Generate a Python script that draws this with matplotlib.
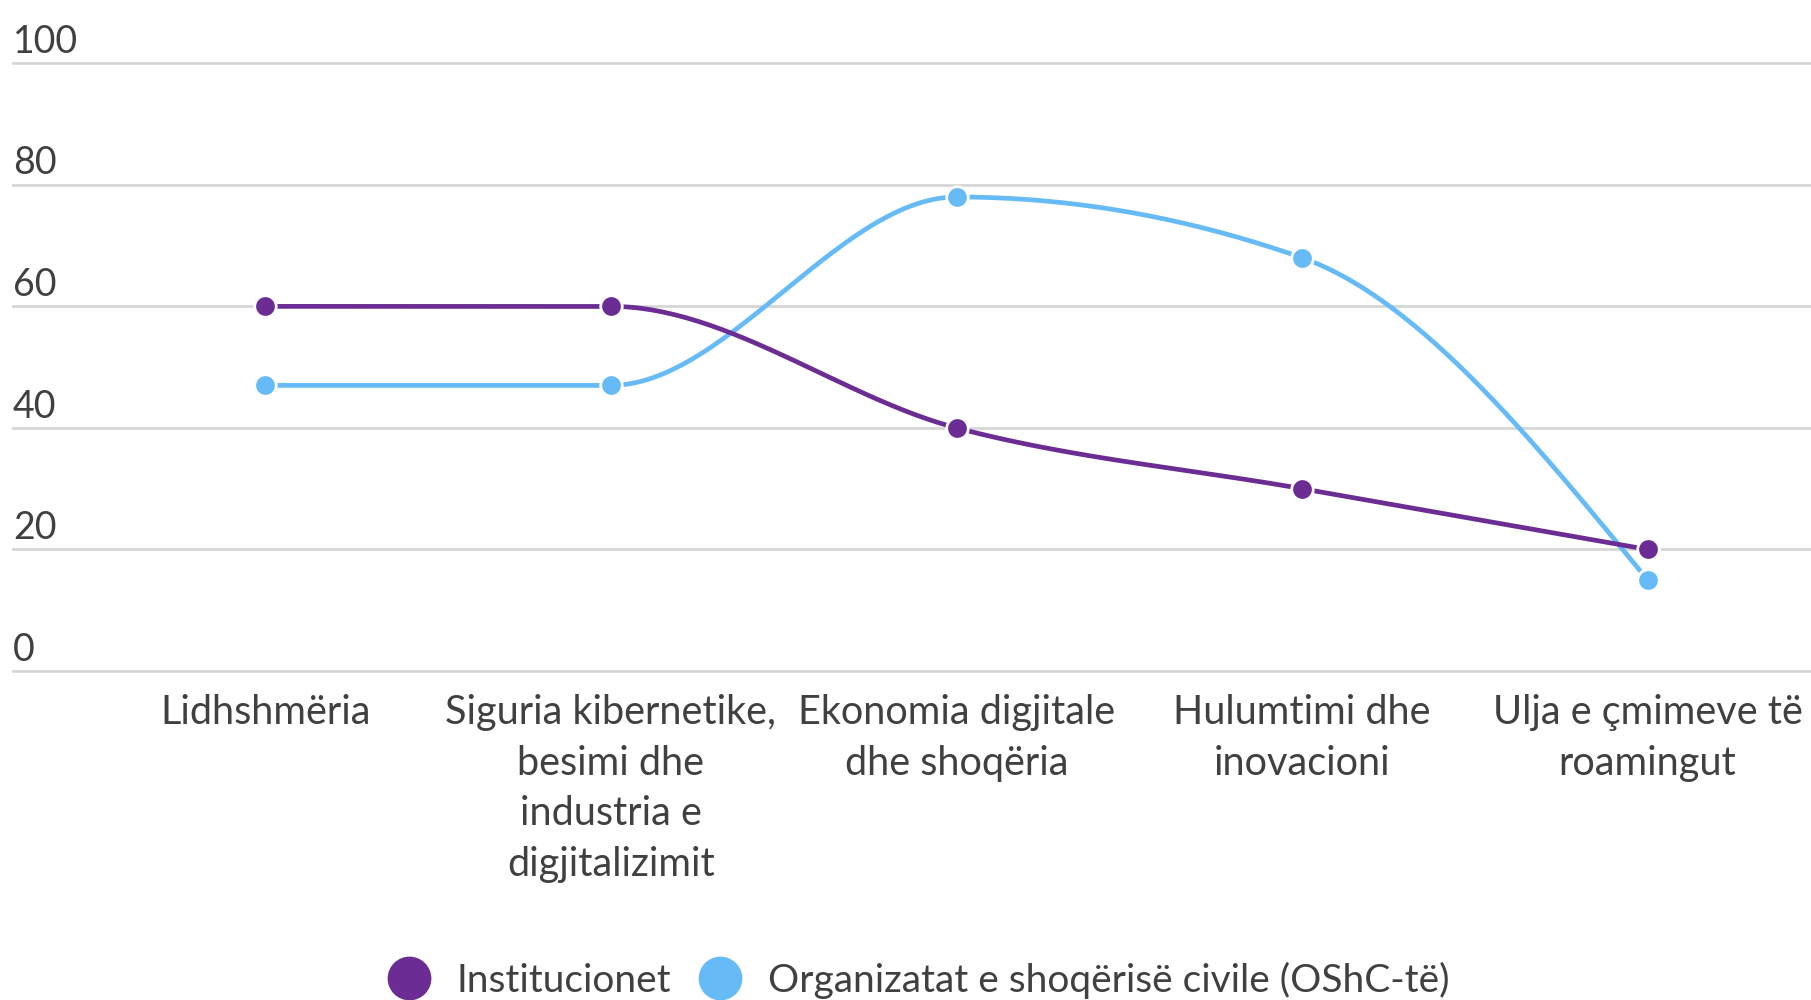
import numpy as np
import matplotlib
matplotlib.use("Agg")
import matplotlib.pyplot as plt
from matplotlib.lines import Line2D

# ───────────────────  chart data  ────────────────────
categories = [
    "Lidhshmëria",
    "Siguria kibernetike,\nbesimi dhe\nindustria e\ndigjitalizimit",
    "Ekonomia digjitale\ndhe shoqëria",
    "Hulumtimi dhe\ninovacioni",
    "Ulja e çmimeve të\nroamingut",
]
institucionet = [60, 60, 40, 30, 20]
oshc = [47, 47, 78, 68, 15]
series_names = ["Institucionet", "Organizatat e shoqërisë civile (OShC-të)"]
y_ticks = [0, 20, 40, 60, 80, 100]

PURPLE = "#6B2D94"
BLUE = "#66BBF7"
TEXT = "#404040"
GRID = "#D6D6D6"


def monotone_x(x, y, n=60):
    """Monotone cubic (d3 curveMonotoneX style) used only for drawing the line."""
    x = np.asarray(x, float)
    y = np.asarray(y, float)
    h = np.diff(x)
    s = np.diff(y) / h
    m = np.zeros_like(y)
    for i in range(1, len(x) - 1):
        p = (s[i - 1] * h[i] + s[i] * h[i - 1]) / (h[i - 1] + h[i])
        m[i] = (np.sign(s[i - 1]) + np.sign(s[i])) * min(abs(s[i - 1]), abs(s[i]), 0.5 * abs(p))
    m[0] = (3 * s[0] - m[1]) / 2
    m[-1] = (3 * s[-1] - m[-2]) / 2
    xs, ys = [], []
    for i in range(len(x) - 1):
        t = np.linspace(0, 1, n)
        h00 = 2 * t**3 - 3 * t**2 + 1
        h10 = t**3 - 2 * t**2 + t
        h01 = -2 * t**3 + 3 * t**2
        h11 = t**3 - t**2
        xs.append(x[i] + t * h[i])
        ys.append(h00 * y[i] + h10 * h[i] * m[i] + h01 * y[i + 1] + h11 * h[i] * m[i + 1])
    return np.concatenate(xs), np.concatenate(ys)


plt.rcParams["font.family"] = ["Lato", "DejaVu Sans"]
fig = plt.figure(figsize=(18.11, 10), dpi=100)
ax = fig.add_axes([11.5 / 1811, 0.3229, 1 - 11.5 / 1811, 0.6199])

xpos = np.arange(len(categories))
for vals, colour, z in [(oshc, BLUE, 3), (institucionet, PURPLE, 4)]:
    sx, sy = monotone_x(xpos, vals)
    ax.plot(sx, sy, color=colour, lw=3.4, zorder=z, solid_capstyle="round")
    ax.plot(xpos, vals, ls="none", marker="o", ms=15.5, mfc=colour,
            mec="white", mew=2, zorder=z + 0.5)

ax.set_xlim(-0.735, 4.473)
ax.set_ylim(-1, 101)
ax.set_yticks(y_ticks)
ax.set_yticklabels([])
ax.tick_params(axis="both", length=0)
ax.grid(axis="y", color=GRID, lw=2)
ax.set_axisbelow(True)
for sp in ax.spines.values():
    sp.set_visible(False)

# y labels sit above the gridlines, left aligned
for v in y_ticks:
    ax.annotate(str(v), xy=(0, v), xycoords=("axes fraction", "data"),
                xytext=(1, 7.5), textcoords="offset points",
                ha="left", va="baseline", fontsize=27, color=TEXT)

ax.set_xticks(xpos)
ax.set_xticklabels(categories, fontsize=28.5, color=TEXT, linespacing=1.46)
ax.tick_params(axis="x", pad=12)

handles = [Line2D([], [], ls="none", marker="o", ms=31.5, mfc=c, mec="none")
           for c in (PURPLE, BLUE)]
leg = fig.legend(handles, series_names, loc="center", bbox_to_anchor=(0.507, 0.02),
                 ncol=2, frameon=False, fontsize=28, handlelength=1.1,
                 handletextpad=0.68, columnspacing=0.7)
for t in leg.get_texts():
    t.set_color(TEXT)

fig.savefig("out.png", dpi=100, facecolor="white")
